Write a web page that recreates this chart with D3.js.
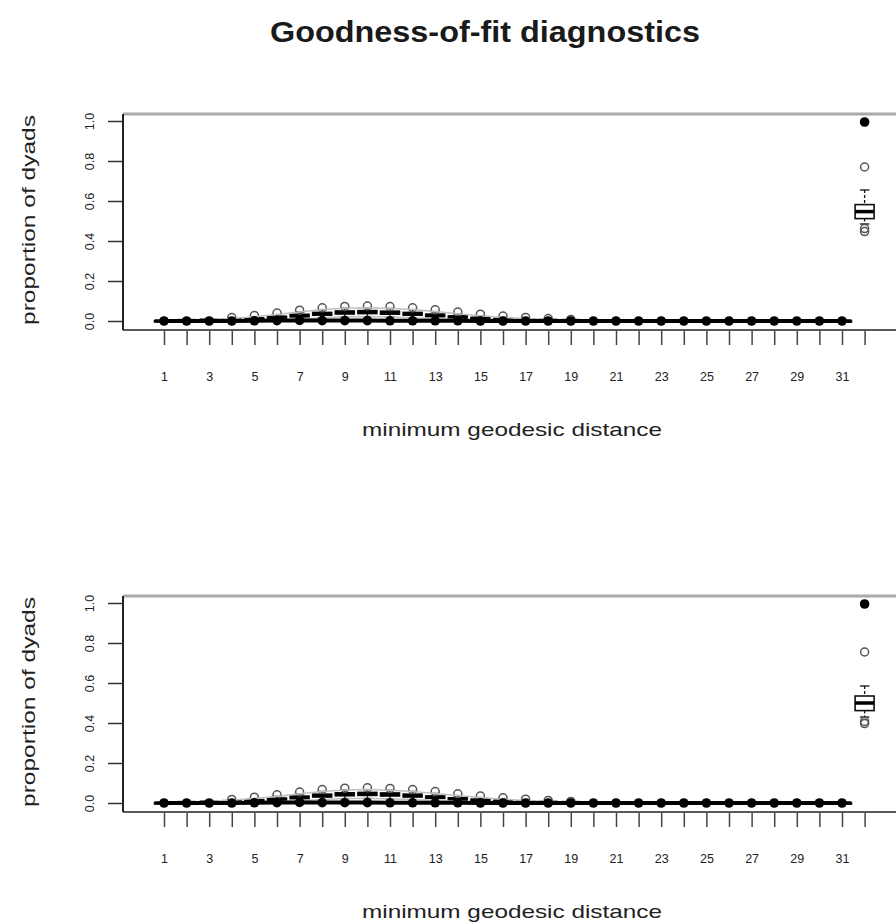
<!DOCTYPE html>
<html>
<head>
<meta charset="utf-8">
<script src="https://cdn.jsdelivr.net/npm/d3@7"></script>
<style>
  body { margin: 0; background: #fff; }
  svg { display: block; font-family: "Liberation Sans", Arial, sans-serif; }
</style>
</head>
<body>
<script>
// categories of the geodesic distance
var distances = ["1","2","3","4","5","6","7","8","9","10","11","12","13","14","15","16",
                 "17","18","19","20","21","22","23","24","25","26","27","28","29","30","31","Inf"];
var labelledTicks = ["1","3","5","7","9","11","13","15","17","19","21","23","25","27","29","31"];
var yTicks = [0, 0.2, 0.4, 0.6, 0.8, 1.0];

// first model: simulated box statistics per distance
var lo1  = [0,0,0,0.001,0.002,0.005,0.010,0.016,0.021,0.022,0.020,0.016,0.011,0.007,0.004,0.002,0.001,0,0,0,0,0,0,0,0,0,0,0,0,0,0,0.485];
var q1_1 = [0,0.001,0.002,0.004,0.007,0.013,0.021,0.029,0.035,0.037,0.034,0.029,0.022,0.015,0.009,0.005,0.003,0.002,0.001,0,0,0,0,0,0,0,0,0,0,0,0,0.512];
var med1 = [0,0.002,0.004,0.006,0.011,0.018,0.027,0.036,0.043,0.045,0.042,0.036,0.028,0.020,0.013,0.008,0.005,0.003,0.002,0.001,0.001,0,0,0,0,0,0,0,0,0,0,0.547];
var q3_1 = [0.001,0.003,0.005,0.008,0.014,0.023,0.033,0.043,0.050,0.052,0.049,0.043,0.034,0.025,0.017,0.011,0.007,0.004,0.003,0.002,0.001,0.001,0,0,0,0,0,0,0,0,0,0.582];
var hi1  = [0.002,0.005,0.008,0.013,0.021,0.032,0.045,0.057,0.064,0.066,0.063,0.057,0.047,0.036,0.026,0.018,0.012,0.008,0.005,0.003,0.002,0.001,0.001,0,0,0,0,0,0,0,0,0.655];
var out1 = [[],[],[],[0.017],[0.028],[0.040],[0.054],[0.066],[0.073],[0.075],[0.072],[0.066],[0.056],[0.045],[0.034],[0.025],[0.018],[0.012],[0.008],[],[],[],[],[],[],[],[],[],[],[],[],[0.77,0.462,0.447]];
var obs1 = [0,0,0,0,0.001,0.002,0.003,0.002,0.002,0.002,0.001,0.001,0.001,0.001,0,0,0,0,0,0,0,0,0,0,0,0,0,0,0,0,0,0.995];

// second model
var lo2  = [0,0,0,0.001,0.003,0.006,0.011,0.017,0.022,0.023,0.021,0.017,0.012,0.008,0.005,0.002,0.001,0,0,0,0,0,0,0,0,0,0,0,0,0,0,0.43];
var q1_2 = [0,0.001,0.002,0.004,0.008,0.014,0.022,0.030,0.036,0.038,0.035,0.030,0.023,0.016,0.010,0.006,0.003,0.002,0.001,0,0,0,0,0,0,0,0,0,0,0,0,0.462];
var med2 = [0,0.002,0.004,0.007,0.012,0.019,0.028,0.037,0.044,0.046,0.043,0.037,0.029,0.021,0.014,0.009,0.005,0.003,0.002,0.001,0.001,0,0,0,0,0,0,0,0,0,0,0.50];
var q3_2 = [0.001,0.003,0.005,0.009,0.015,0.024,0.034,0.044,0.051,0.053,0.050,0.044,0.035,0.026,0.018,0.012,0.007,0.004,0.003,0.002,0.001,0.001,0,0,0,0,0,0,0,0,0,0.535];
var hi2  = [0.002,0.005,0.008,0.014,0.022,0.033,0.046,0.058,0.065,0.067,0.064,0.058,0.048,0.037,0.027,0.019,0.013,0.008,0.005,0.003,0.002,0.001,0.001,0,0,0,0,0,0,0,0,0.585];
var out2 = [[],[],[],[0.018],[0.029],[0.041],[0.055],[0.067],[0.074],[0.076],[0.073],[0.067],[0.057],[0.046],[0.035],[0.026],[0.019],[0.013],[0.008],[],[],[],[],[],[],[],[],[],[],[],[],[0.755,0.408,0.397]];
var obs2 = [0,0,0,0,0.001,0.002,0.003,0.002,0.002,0.002,0.001,0.001,0.001,0.001,0,0,0,0,0,0,0,0,0,0,0,0,0,0,0,0,0,0.995];

var width = 896, height = 924;
var svg = d3.select("body").append("svg")
	.attr("width", width)
	.attr("height", height);

svg.append("text")
	.attr("x", 485)
	.attr("y", 42)
	.attr("text-anchor", "middle")
	.attr("font-size", "29px")
	.attr("font-weight", "bold")
	.attr("fill", "#1a1a1a")
	.attr("textLength", 430)
	.attr("lengthAdjust", "spacingAndGlyphs")
	.text("Goodness-of-fit diagnostics");

var x = d3.scalePoint()
	.domain(distances)
	.range([164, 864.6]);

function drawPanel(top, lo, q1, med, q3, hi, out, obs)
{
	// top = y of the frame's top edge
	var y = d3.scaleLinear().domain([0, 1]).range([top + 207, top + 7]);
	var bottom = top + 216;
	var g = svg.append("g");

	// frame
	g.append("line")
		.attr("x1", 123).attr("x2", width)
		.attr("y1", top).attr("y2", top)
		.attr("stroke", "#aaa").attr("stroke-width", 3);
	g.append("line")
		.attr("x1", 123).attr("x2", 123)
		.attr("y1", top).attr("y2", bottom)
		.attr("stroke", "#222").attr("stroke-width", 2);
	g.append("line")
		.attr("x1", 123).attr("x2", width)
		.attr("y1", bottom).attr("y2", bottom)
		.attr("stroke", "#222").attr("stroke-width", 1.5);

	// y axis
	var ya = g.append("g")
		.attr("transform", "translate(122,0)")
		.call(d3.axisLeft(y).tickValues(yTicks).tickSize(14).tickFormat(d3.format(".1f")));
	ya.select(".domain").remove();
	ya.selectAll(".tick line").attr("stroke", "#333").attr("stroke-width", 1.5);
	ya.selectAll(".tick text")
		.attr("font-size", "12.5px")
		.attr("fill", "#222")
		.attr("font-family", "Liberation Sans, Arial, sans-serif")
		.attr("x", 0).attr("y", 0)
		.attr("dy", "0.35em")
		.attr("text-anchor", "middle")
		.attr("transform", "translate(-32,0) rotate(-90)");

	// x axis
	var xa = g.append("g")
		.attr("transform", "translate(0," + (bottom + 1) + ")")
		.call(d3.axisBottom(x).tickSize(14).tickPadding(0)
			.tickFormat(function(d){ return labelledTicks.indexOf(d) >= 0 ? d : ""; }));
	xa.select(".domain").remove();
	xa.selectAll(".tick line").attr("stroke", "#444").attr("stroke-width", 1.5);
	xa.selectAll(".tick text")
		.attr("font-size", "12.5px")
		.attr("fill", "#222")
		.attr("font-family", "Liberation Sans, Arial, sans-serif")
		.attr("y", 41);

	g.append("text")
		.attr("x", 512)
		.attr("y", bottom + 106)
		.attr("text-anchor", "middle")
		.attr("font-size", "19px")
		.attr("fill", "#222")
		.attr("textLength", 300)
		.attr("lengthAdjust", "spacingAndGlyphs")
		.text("minimum geodesic distance");

	g.append("text")
		.attr("transform", "translate(35," + (top + 106) + ") rotate(-90)")
		.attr("text-anchor", "middle")
		.attr("font-size", "19px")
		.attr("fill", "#222")
		.attr("textLength", 210)
		.attr("lengthAdjust", "spacingAndGlyphs")
		.text("proportion of dyads");

	var boxW = 19;
	var boxes = g.selectAll("g.box")
		.data(distances)
		.enter().append("g").attr("class", "box");

	boxes.each(function(d, i){
		var b = d3.select(this);
		var cx = x(d);
		b.append("line")
			.attr("x1", cx).attr("x2", cx)
			.attr("y1", y(hi[i])).attr("y2", y(q3[i]))
			.attr("stroke", "#111").attr("stroke-width", 1.3).attr("stroke-dasharray", "3,2");
		b.append("line")
			.attr("x1", cx).attr("x2", cx)
			.attr("y1", y(q1[i])).attr("y2", y(lo[i]))
			.attr("stroke", "#111").attr("stroke-width", 1.3).attr("stroke-dasharray", "3,2");
		b.append("line")
			.attr("x1", cx - boxW / 4).attr("x2", cx + boxW / 4)
			.attr("y1", y(hi[i])).attr("y2", y(hi[i]))
			.attr("stroke", "#111").attr("stroke-width", 1.3);
		b.append("line")
			.attr("x1", cx - boxW / 4).attr("x2", cx + boxW / 4)
			.attr("y1", y(lo[i])).attr("y2", y(lo[i]))
			.attr("stroke", "#111").attr("stroke-width", 1.3);
		b.append("rect")
			.attr("x", cx - boxW / 2)
			.attr("y", y(q3[i]))
			.attr("width", boxW)
			.attr("height", Math.max(1, y(q1[i]) - y(q3[i])))
			.attr("fill", "#fff")
			.attr("stroke", "#111").attr("stroke-width", 1.6);
		b.append("line")
			.attr("x1", cx - boxW / 2).attr("x2", cx + boxW / 2)
			.attr("y1", y(med[i])).attr("y2", y(med[i]))
			.attr("stroke", "#000").attr("stroke-width", 3.5);
		b.selectAll("circle")
			.data(out[i])
			.enter().append("circle")
			.attr("cx", cx)
			.attr("cy", function(v){ return y(v); })
			.attr("r", 4)
			.attr("fill", "none")
			.attr("stroke", "#555")
			.attr("stroke-width", 1.5);
	});

	// simulation bounds (grey) and observed (black), finite distances only
	var finite = distances.slice(0, 31);
	var line = function(vals){
		return d3.line()
			.x(function(d){ return x(d); })
			.y(function(d, i){ return y(vals[i]); })(finite);
	};
	g.append("path").attr("d", line(hi)).attr("fill", "none").attr("stroke", "#bfbfbf").attr("stroke-width", 1.5);
	g.append("path").attr("d", line(lo)).attr("fill", "none").attr("stroke", "#bfbfbf").attr("stroke-width", 1.5);
	g.append("path").attr("d", line(obs)).attr("fill", "none").attr("stroke", "#000").attr("stroke-width", 4);

	g.selectAll("circle.obs")
		.data(distances)
		.enter().append("circle")
		.attr("class", "obs")
		.attr("cx", function(d){ return x(d); })
		.attr("cy", function(d, i){ return y(obs[i]); })
		.attr("r", 4.8)
		.attr("fill", "#000");
}

drawPanel(114, lo1, q1_1, med1, q3_1, hi1, out1, obs1);
drawPanel(596, lo2, q1_2, med2, q3_2, hi2, out2, obs2);
</script>
</body>
</html>
